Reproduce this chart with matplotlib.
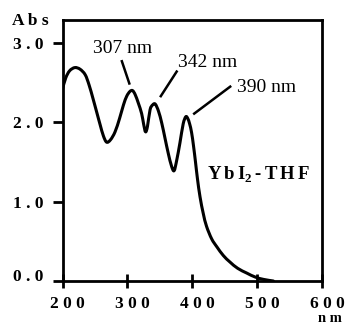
import matplotlib
matplotlib.use("Agg")
import matplotlib.pyplot as plt
import matplotlib.transforms as mtransforms
from matplotlib.path import Path
from matplotlib.patches import PathPatch

# ---- data ----
wavelength = [200, 205, 211, 219, 227, 235, 241, 247, 253, 258, 263, 268, 274, 281,
              288, 294, 299, 304, 308, 312, 317, 322, 325, 328, 331, 335, 339, 343,
              348, 353, 358, 363, 368, 372, 376, 381, 386, 390, 393, 396, 399, 402,
              405, 408, 412, 417, 422, 430, 438, 448, 458, 470, 484, 497, 510, 525]
absorbance = [2.42, 2.56, 2.65, 2.69, 2.67, 2.60, 2.47, 2.30, 2.12, 1.97, 1.83, 1.75,
              1.78, 1.88, 2.05, 2.22, 2.33, 2.39, 2.40, 2.35, 2.24, 2.11, 1.98, 1.88,
              1.95, 2.16, 2.22, 2.23, 2.14, 1.99, 1.80, 1.61, 1.45, 1.39, 1.52, 1.74,
              1.98, 2.07, 2.05, 1.98, 1.87, 1.70, 1.50, 1.29, 1.06, 0.85, 0.69, 0.53,
              0.43, 0.32, 0.24, 0.16, 0.10, 0.05, 0.02, 0.0]

xticks = [200, 300, 400, 500, 600]
xtick_labels = ["200", "300", "400", "500", "600"]
yticks = [0, 1, 2, 3]
ytick_labels = ["0.0", "1.0", "2.0", "3.0"]

peaks = ["307 nm", "342 nm", "390 nm"]
peak_text_pos = [(247, 2.875), (378, 2.70), (469, 2.38)]
peak_line_start = [(291.5, 2.77), (376, 2.64), (458.5, 2.45)]
peak_line_end = [(303, 2.49), (351.5, 2.33), (403, 2.11)]

SERIF = ["Liberation Serif", "DejaVu Serif"]
plt.rcParams["mathtext.fontset"] = "custom"
plt.rcParams["mathtext.rm"] = "Liberation Serif"
plt.rcParams["mathtext.bf"] = "Liberation Serif:bold"


def spaced(s):
    return " ".join(list(s))


def smooth_path(xs, ys):
    """Catmull-Rom curve through the read points, as cubic Bezier segments."""
    n = len(xs)
    verts = [(xs[0], ys[0])]
    codes = [Path.MOVETO]
    for i in range(n - 1):
        x0, y0 = (xs[i - 1], ys[i - 1]) if i > 0 else (xs[i], ys[i])
        x1, y1 = xs[i], ys[i]
        x2, y2 = xs[i + 1], ys[i + 1]
        x3, y3 = (xs[i + 2], ys[i + 2]) if i + 2 < n else (x2, y2)
        c1 = (x1 + (x2 - x0) / 6.0, y1 + (y2 - y0) / 6.0)
        c2 = (x2 - (x3 - x1) / 6.0, y2 - (y3 - y1) / 6.0)
        verts += [c1, c2, (x2, y2)]
        codes += [Path.CURVE4] * 3
    return Path(verts, codes)


fig = plt.figure(figsize=(3.46, 3.27), dpi=100)
ax = fig.add_axes([62.5 / 346, 46 / 327, (322 - 62.5) / 346, (281 - 20) / 327])

ax.add_patch(PathPatch(smooth_path(wavelength, absorbance), facecolor="none",
                       edgecolor="black", lw=2.2, capstyle="round", joinstyle="round"))

ax.set_xlim(200, 600)
ax.set_ylim(0, 3.29)

for s in ax.spines.values():
    s.set_linewidth(2.0)

ax.set_xticks(xticks)
ax.set_xticklabels([spaced(t) for t in xtick_labels], fontfamily=SERIF,
                   fontweight="bold", fontsize=12.5)
ax.set_yticks(yticks)
ax.set_yticklabels([spaced(t) for t in ytick_labels], fontfamily=SERIF,
                   fontweight="bold", fontsize=12.5)
ax.tick_params(axis="x", direction="inout", length=10, width=2.0, pad=5.5)
ax.tick_params(axis="y", direction="out", length=7, width=2.0, pad=7)

offset_x = mtransforms.ScaledTranslation(5 / 100, 0, fig.dpi_scale_trans)
for lab in ax.get_xticklabels():
    lab.set_transform(lab.get_transform() + offset_x)
offset_y0 = mtransforms.ScaledTranslation(0, 6 / 100, fig.dpi_scale_trans)
ax.get_yticklabels()[0].set_transform(ax.get_yticklabels()[0].get_transform() + offset_y0)

# axis labels
fig.text(12 / 346, 1 - 25 / 327, spaced("Abs"), fontfamily=SERIF, fontweight="bold",
         fontsize=12.5, ha="left", va="baseline")
fig.text(342 / 346, 1 - 322 / 327, spaced("nm"), fontfamily=SERIF, fontweight="bold",
         fontsize=10.5, ha="right", va="baseline")

# peak annotations
for lab, (tx, ty), (x0, y0), (x1, y1) in zip(peaks, peak_text_pos, peak_line_start, peak_line_end):
    ax.text(tx, ty, lab, fontfamily=SERIF, fontsize=14, ha="left", va="baseline")
    ax.plot([x0, x1], [y0, y1], color="black", lw=1.8)

sp = "\u2006"
ax.text((310 - 62.5) / 259.5, 1 - (180 - 20) / 261,
        "Y" + sp + "b" + sp + "I$_{\\mathbf{2}}$" + sp + "-" + sp + "T" + sp + "H" + sp + "F",
        transform=ax.transAxes, fontfamily=SERIF, fontweight="bold", fontsize=13.5,
        ha="right", va="baseline")

fig.savefig("out.png", dpi=100)
